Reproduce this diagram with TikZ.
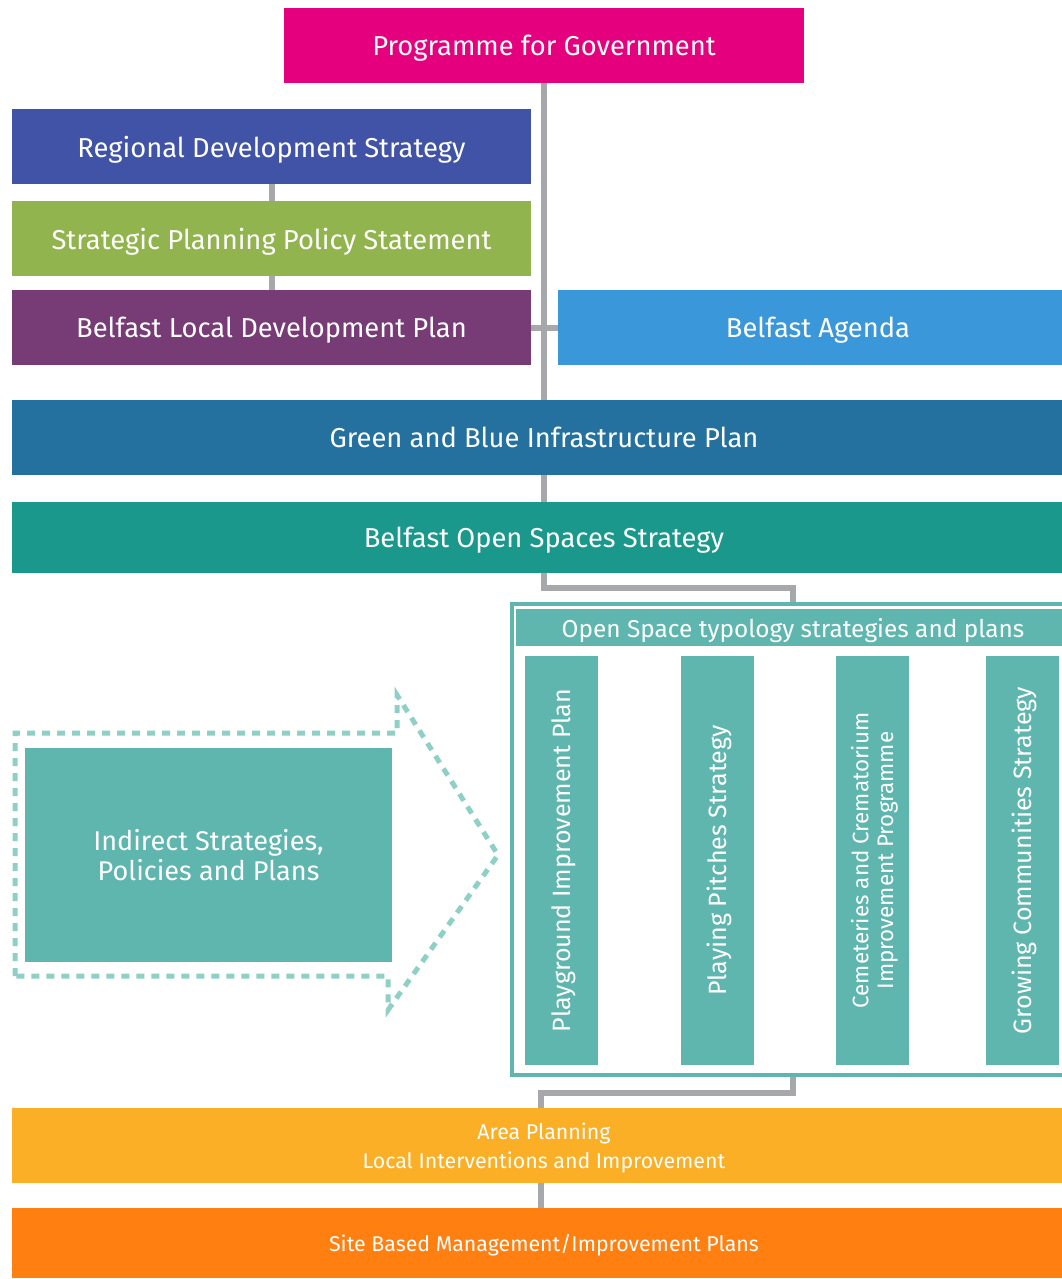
\documentclass[tikz,border=0pt]{standalone}
\usepackage{fontspec}
\setmainfont{Fira Sans}
\usetikzlibrary{backgrounds,positioning}
\definecolor{pfgpink}{HTML}{E5007E}
\definecolor{rdsblue}{HTML}{4053A7}
\definecolor{sppsgreen}{HTML}{92B44E}
\definecolor{bldppurple}{HTML}{773B76}
\definecolor{bablue}{HTML}{3A98DA}
\definecolor{gbipblue}{HTML}{2471A0}
\definecolor{bossteal}{HTML}{1A988B}
\definecolor{typoteal}{HTML}{5FB6AF}
\definecolor{dashteal}{HTML}{8ECFC6}
\definecolor{areayellow}{HTML}{FBAF26}
\definecolor{siteorange}{HTML}{FF7F11}
\definecolor{linkgrey}{HTML}{A7A8AC}

\begin{document}
\begin{tikzpicture}
[x=0.75pt,y=-0.75pt,
box/.style={rectangle,inner sep=0pt,text=white,align=center,text depth=0pt,font=\fontsize{20.5}{24}\selectfont,minimum height=56.25pt},
half/.style={box,minimum width=389.25pt},
full/.style={box,minimum width=798pt},
column/.style={box,fill=typoteal,rotate=90,minimum width=306.75pt,minimum height=54.75pt,font=\fontsize{18.8}{21}\selectfont},
link/.style={draw=linkgrey,line width=4.5pt},
indirect/.style={draw=dashteal,line width=3.75pt,dash pattern=on 6pt off 5.25pt}]
\useasboundingbox (0,0) rectangle (1062,1279);
\node[box,fill=pfgpink,minimum width=390pt] (pfg) at (544,45.5) {Programme for Government};
\node[half,fill=rdsblue] (rds) at (271.5,146.5) {Regional Development Strategy};
\node[half,fill=sppsgreen] (spps) at (271.5,238.5) {Strategic Planning Policy Statement};
\node[half,fill=bldppurple] (bldp) at (271.5,327.5) {Belfast Local Development Plan};
\node[box,fill=bablue,minimum width=390pt] (ba) at (818,327.5) {Belfast Agenda};
\node[full,fill=gbipblue] (gbip) at (544,437.5) {Green and Blue Infrastructure Plan};
\node[full,fill=bossteal,minimum height=53.25pt] (boss) at (544,537.5) {Belfast Open Spaces Strategy};
% typology frame
\node[draw=typoteal,line width=3pt,minimum width=424.5pt,minimum height=353.25pt] (typo) at (795,839.5) {};
\node[box,fill=typoteal,minimum width=415.5pt,minimum height=27.75pt,font=\fontsize{18.3}{21}\selectfont] (header) at (793,627.5) {Open Space typology strategies and plans};
\node[column] (playground) at (561.5,860.5) {Playground Improvement Plan};
\node[column] (pitches) at (717,860.5) {Playing Pitches Strategy};
\node[column,font=\fontsize{16.8}{18.5}\selectfont] (cemeteries) at (872,860.5) {Cemeteries and Crematorium\\Improvement Programme};
\node[column] (growing) at (1022,860.5) {Growing Communities Strategy};
% indirect
\draw[indirect] (15,976) -- (15,733) -- (397,733) -- (397,695) -- (498,855) -- (388,1010) -- (388,976) -- cycle;
\node[box,fill=typoteal,minimum width=275.25pt,minimum height=160.5pt,font=\fontsize{20.3}{23}\selectfont] (indirect) at (208.5,855) {Indirect Strategies,\\Policies and Plans};
\node[full,fill=areayellow,font=\fontsize{16}{21.75}\selectfont] (area) at (544,1145.5) {Area Planning\\Local Interventions and Improvement};
\node[full,fill=siteorange,minimum height=52.5pt,font=\fontsize{16}{19}\selectfont] (site) at (544,1243) {Site Based Management/Improvement Plans};
\coordinate (t1) at (544,588);
\coordinate (t2) at (793,588);
\coordinate (b1) at (793,1093);
\coordinate (b2) at (541,1093);
\begin{scope}[on background layer]
\draw[link] (pfg.south) -- (t1) -- (t2) -- (t2 |- typo.north);
\draw[link] (rds) -- (bldp);
\draw[link] (bldp) -- (ba);
\draw[link] (typo.south -| b1) -- (b1) -- (b2) -- (b2 |- site.north);
\end{scope}
\end{tikzpicture}
\end{document}
